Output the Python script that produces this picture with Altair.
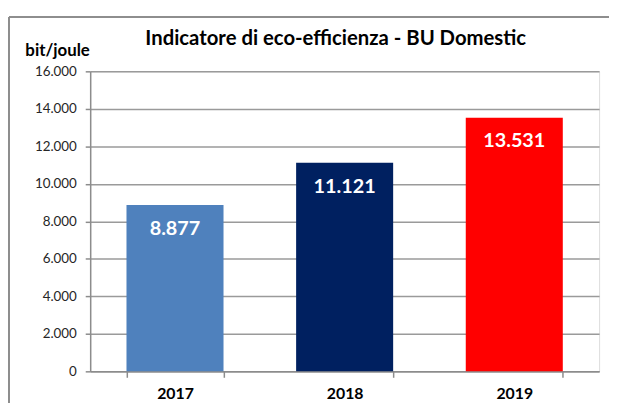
import altair as alt
import pandas as pd

years = ["2017", "2018", "2019"]
values = [8877, 11121, 13531]
colors = ["#4F81BD", "#002060", "#FF0000"]
labels = ["8.877", "11.121", "13.531"]
y_ticks = [0, 2000, 4000, 6000, 8000, 10000, 12000, 14000, 16000]
title_text = "Indicatore di eco-efficienza - BU Domestic"

df = pd.DataFrame({"year": years, "value": values, "label": labels})

FONT = "Lato"
W, H = 514, 303

x = alt.X("year:N", title=None, sort=years,
          scale=alt.Scale(paddingInner=0.428, paddingOuter=0.214),
          axis=alt.Axis(labelAngle=0, labelFont=FONT, labelFontSize=16, labelFontWeight="bold",
                        labelColor="#000000", labelPadding=8, tickBand="extent", tickSize=6,
                        tickColor="#8c8c8c", domainColor="#8c8c8c", domainWidth=1.5, tickWidth=1.5,
                        grid=False))
y = alt.Y("value:Q", scale=alt.Scale(domain=[0, 16000], nice=False),
          axis=alt.Axis(values=y_ticks, title="bit/joule", titleAngle=0,
                        titleX=-66, titleY=-16, titleAlign="left", titleBaseline="alphabetic",
                        titleFont=FONT, titleFontSize=17, titleFontWeight="bold", titleColor="#000000",
                        labelFont=FONT, labelFontSize=13.5, labelColor="#262626", labelPadding=9,
                        labelOverlap=False, labelFlush=False,
                        labelExpr="replace(format(datum.value, ','), ',', '.')",
                        tickSize=5, tickColor="#8c8c8c", domainColor="#8c8c8c", domainWidth=1.5,
                        tickWidth=1.5, grid=True, gridColor="#9a9a9a", gridWidth=1.5))

bars = alt.Chart(df).mark_bar().encode(
    x=x, y=y,
    color=alt.Color("year:N", scale=alt.Scale(domain=years, range=colors), legend=None),
)

text = alt.Chart(df).mark_text(font=FONT, fontSize=20, fontWeight="bold", color="white",
                               baseline="middle", dy=24).encode(
    x=x, y=y, text="label:N"
)

title = alt.Chart(pd.DataFrame({"t": [title_text]})).mark_text(
    font=FONT, fontSize=20.5, fontWeight="bold", color="#000000", align="center", baseline="middle"
).encode(x=alt.value(W / 2 - 9), y=alt.value(-33), text="t:N")

border_top = alt.Chart(df).mark_rule(color="#8c8c8c", strokeWidth=1.5).encode(
    x=alt.value(-82), x2=alt.value(W + 30), y=alt.value(-55)
)
border_left = alt.Chart(df).mark_rule(color="#8c8c8c", strokeWidth=1.5).encode(
    x=alt.value(-82), y=alt.value(-55), y2=alt.value(H + 60)
)

chart = alt.layer(border_top, border_left, bars, text, title).properties(
    width=W, height=H,
    autosize=alt.AutoSizeParams(type="none"),
    padding={"left": 83, "top": 62, "right": 10, "bottom": 30},
).configure_view(stroke=None).configure(background="white")

chart.save("out.html", embed_options={"renderer": "svg", "actions": False})
